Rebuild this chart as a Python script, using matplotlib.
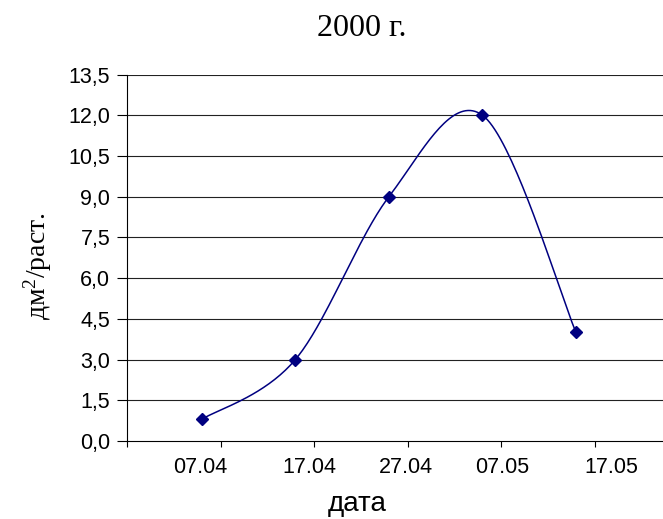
import numpy as np
import matplotlib
matplotlib.use("Agg")
import matplotlib.pyplot as plt
import matplotlib.dates as mdates
import matplotlib.transforms as mtransforms
from datetime import datetime

plt.rcParams['mathtext.fontset'] = 'custom'
plt.rcParams['mathtext.rm'] = 'Liberation Serif'
plt.rcParams['mathtext.it'] = 'Liberation Serif:italic'

# данные
dates = ["05.04", "15.04", "25.04", "05.05", "15.05"]
values = [0.8, 3.0, 9.0, 12.0, 4.0]
tick_dates = ["28.03", "07.04", "17.04", "27.04", "07.05", "17.05"]
tick_labels = ["", "07.04", "17.04", "27.04", "07.05", "17.05"]
y_ticks = [0.0, 1.5, 3.0, 4.5, 6.0, 7.5, 9.0, 10.5, 12.0, 13.5]

def to_num(s):
    return mdates.date2num(datetime.strptime(s + ".2000", "%d.%m.%Y"))

x = np.array([to_num(d) for d in dates])
y = np.array(values)

fig = plt.figure(figsize=(6.63, 5.19), dpi=100)
ax = fig.add_axes([127/663, 1 - 441/519, 1 - 127/663, (441 - 74.5)/519])

ax.set_xlim(to_num("28.03"), to_num("28.03") + 57.3)
ax.set_ylim(0, 13.5)

# сглаженная линия как в Excel (Безье по экранным координатам)
pts = ax.transData.transform(np.column_stack([x, y]))
curve = []
n = len(pts)
for i in range(n - 1):
    p0 = pts[max(i - 1, 0)]
    p1 = pts[i]
    p2 = pts[i + 1]
    p3 = pts[min(i + 2, n - 1)]
    c1 = p1 + (p2 - p0) / 6
    c2 = p2 - (p3 - p1) / 6
    t = np.linspace(0, 1, 40)[:, None]
    seg = (1 - t)**3 * p1 + 3 * (1 - t)**2 * t * c1 + 3 * (1 - t) * t**2 * c2 + t**3 * p2
    curve.append(seg)
curve = np.vstack(curve)
curve = ax.transData.inverted().transform(curve)

ax.plot(curve[:, 0], curve[:, 1], color="#000080", lw=1.1, zorder=3)
ax.plot(x, y, linestyle="none", marker="D", markersize=6.5, color="#000080", zorder=4)

ax.set_yticks(y_ticks)
ax.set_yticklabels([f"{v:.1f}".replace(".", ",") for v in y_ticks])
ax.set_xticks([to_num(d) for d in tick_dates])
ax.set_xticklabels(tick_labels)

for v in y_ticks[1:]:
    ax.axhline(v, color="#222222", lw=0.8, zorder=1)

for s in ["top", "right"]:
    ax.spines[s].set_visible(False)
ax.spines["left"].set_linewidth(0.8)
ax.spines["bottom"].set_linewidth(0.8)

ax.tick_params(axis="y", length=7, width=0.8, pad=5, labelsize=15.5,
               labelfontfamily="Liberation Sans")
ax.tick_params(axis="x", length=4.5, width=0.8, pad=7, labelsize=15.5,
               labelfontfamily="Liberation Sans")

# подписи дат в Excel немного раздвинуты относительно делений
shifts = [0, -20, -5, -2, 1, 17]
for lab, dx in zip(ax.get_xticklabels(), shifts):
    lab.set_transform(lab.get_transform() +
                      mtransforms.ScaledTranslation(dx / 100, 0, fig.dpi_scale_trans))

fig.text(0.545, 1 - 29/519, "2000 г.", ha="center", va="center",
         fontsize=23, family="Liberation Serif")
fig.text(38/663, 1 - 266/519, "дм$^{2}$/раст.", ha="center", va="center",
         rotation=90, fontsize=20, family="Liberation Serif")
fig.text(357/663, 2/519, "дата", ha="center", va="bottom",
         fontsize=20, family="Liberation Sans")

plt.savefig("out.png", dpi=100)
